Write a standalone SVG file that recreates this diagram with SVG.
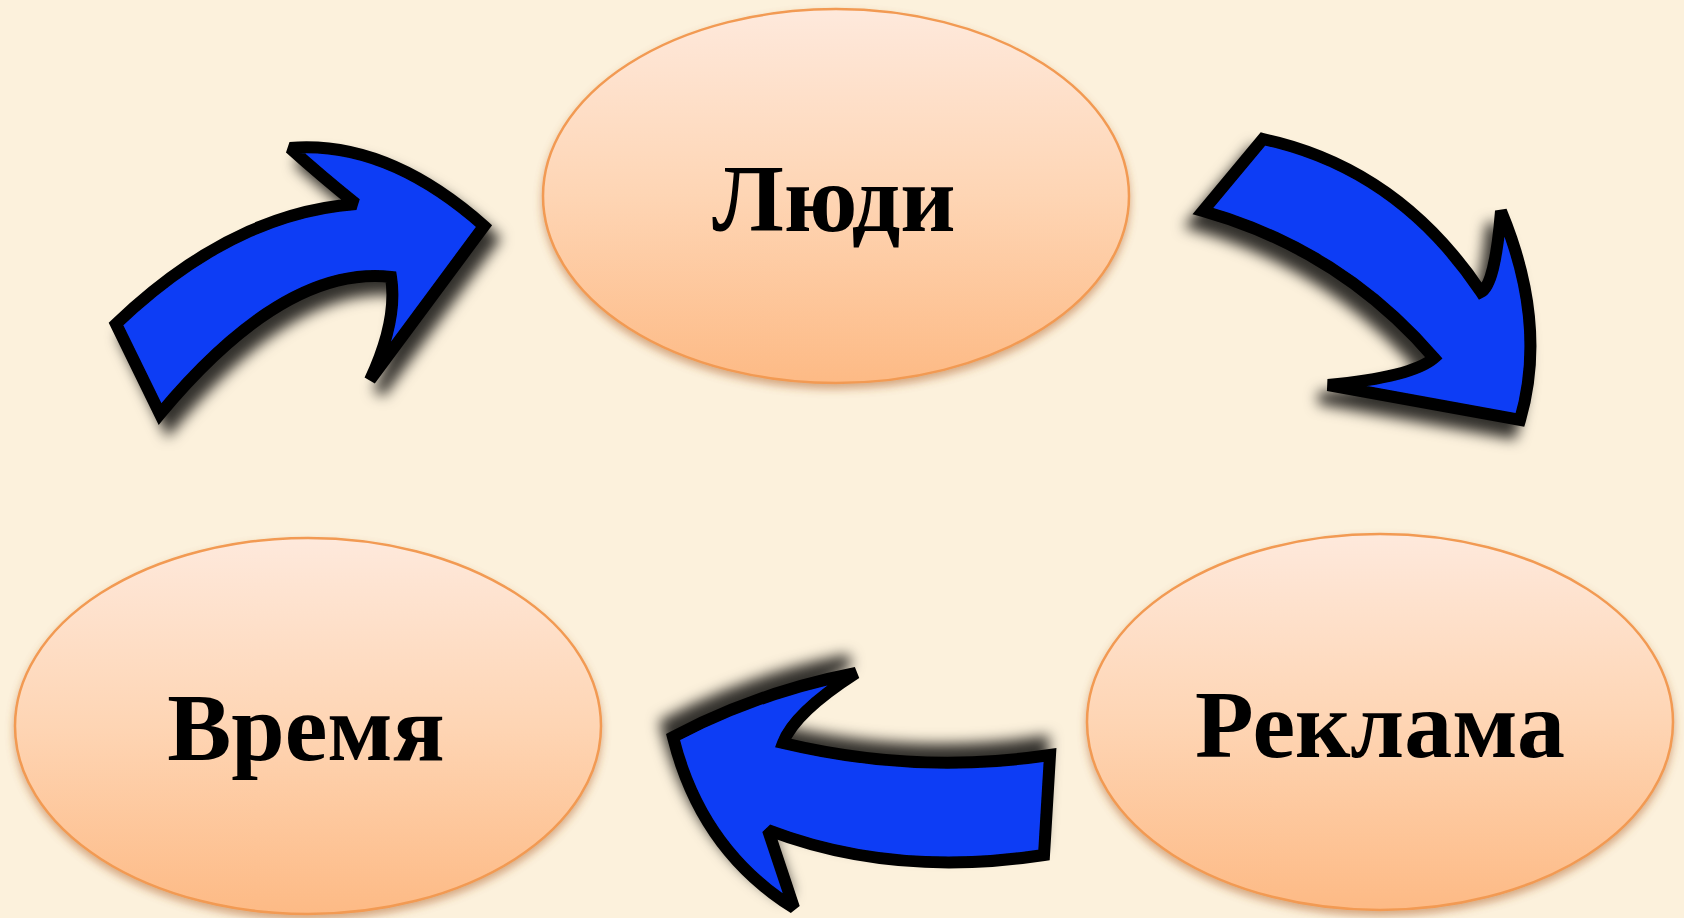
<svg xmlns="http://www.w3.org/2000/svg" width="1684" height="918" viewBox="0 0 1684 918">
  <defs>
    <linearGradient id="peach" x1="0" y1="0" x2="0" y2="1">
      <stop offset="0" stop-color="#FEE9DC"/>
      <stop offset="0.5" stop-color="#FED5B4"/>
      <stop offset="1" stop-color="#FDBA85"/>
    </linearGradient>
    <filter id="eshadow" x="-10%" y="-10%" width="120%" height="125%">
      <feGaussianBlur in="SourceAlpha" stdDeviation="4"/>
      <feOffset dx="0" dy="5" result="b"/>
      <feFlood flood-color="#B0602A" flood-opacity="0.5"/>
      <feComposite in2="b" operator="in"/>
      <feMerge><feMergeNode/><feMergeNode in="SourceGraphic"/></feMerge>
    </filter>
    <filter id="sh1" x="-20%" y="-20%" width="140%" height="140%">
      <feGaussianBlur in="SourceAlpha" stdDeviation="7"/>
      <feOffset dx="9" dy="13" result="b"/>
      <feFlood flood-color="#000" flood-opacity="0.8"/>
      <feComposite in2="b" operator="in"/>
      <feMerge><feMergeNode/><feMergeNode in="SourceGraphic"/></feMerge>
    </filter>
    <filter id="sh2" x="-20%" y="-20%" width="140%" height="140%">
      <feGaussianBlur in="SourceAlpha" stdDeviation="7"/>
      <feOffset dx="-9" dy="13" result="b"/>
      <feFlood flood-color="#000" flood-opacity="0.8"/>
      <feComposite in2="b" operator="in"/>
      <feMerge><feMergeNode/><feMergeNode in="SourceGraphic"/></feMerge>
    </filter>
    <filter id="sh3" x="-20%" y="-30%" width="140%" height="160%">
      <feGaussianBlur in="SourceAlpha" stdDeviation="7"/>
      <feOffset dx="-7" dy="-13" result="b"/>
      <feFlood flood-color="#000" flood-opacity="0.8"/>
      <feComposite in2="b" operator="in"/>
      <feMerge><feMergeNode/><feMergeNode in="SourceGraphic"/></feMerge>
    </filter>
  </defs>
  <style>
    .node { fill: url(#peach); stroke: #F29A52; stroke-width: 2.5; }
    .label { font-family: "Liberation Serif", "Times New Roman", serif; font-weight: bold; font-size: 96px; fill: #000; text-anchor: middle; }
    .arrow { fill: #0F3CF5; stroke: #000; stroke-width: 12; stroke-linejoin: miter; stroke-miterlimit: 2; }
  </style>
  <rect width="1684" height="918" fill="#FCF1DC"/>

  <g id="connectors">
    <path id="arrow-vremya-lyudi" class="arrow" filter="url(#sh1)" d="M 116 324 Q 232 213 356 204 Q 320 175 290 148 Q 387 140 484 226 L 370 380 Q 398 320 391 277 Q 284 265 160 414 Z"/>
    <path id="arrow-lyudi-reklama" class="arrow" filter="url(#sh2)" d="M 1263 139 Q 1398 168 1481 292 Q 1495 285 1501 211 Q 1548 324 1520 420 L 1328 385 Q 1412 377 1434 358 Q 1341 250 1203 211 Z"/>
    <path id="arrow-reklama-vremya" class="arrow" filter="url(#sh3)" d="M 1050 755 Q 917 775 783 743 Q 794 713 856 673 Q 758 692 673 737 Q 701 850 794 908 L 768 830 Q 893 878 1044 855 Z"/>
  </g>

  <g id="node-lyudi" filter="url(#eshadow)">
    <ellipse class="node" cx="836" cy="196" rx="293" ry="187"/>
    <text class="label" x="834" y="231">Люди</text>
  </g>
  <g id="node-vremya" filter="url(#eshadow)">
    <ellipse class="node" cx="308" cy="726" rx="293" ry="188"/>
    <text class="label" x="306" y="760">Время</text>
  </g>
  <g id="node-reklama" filter="url(#eshadow)">
    <ellipse class="node" cx="1380" cy="722" rx="293" ry="188"/>
    <text class="label" x="1380" y="757">Реклама</text>
  </g>
</svg>
